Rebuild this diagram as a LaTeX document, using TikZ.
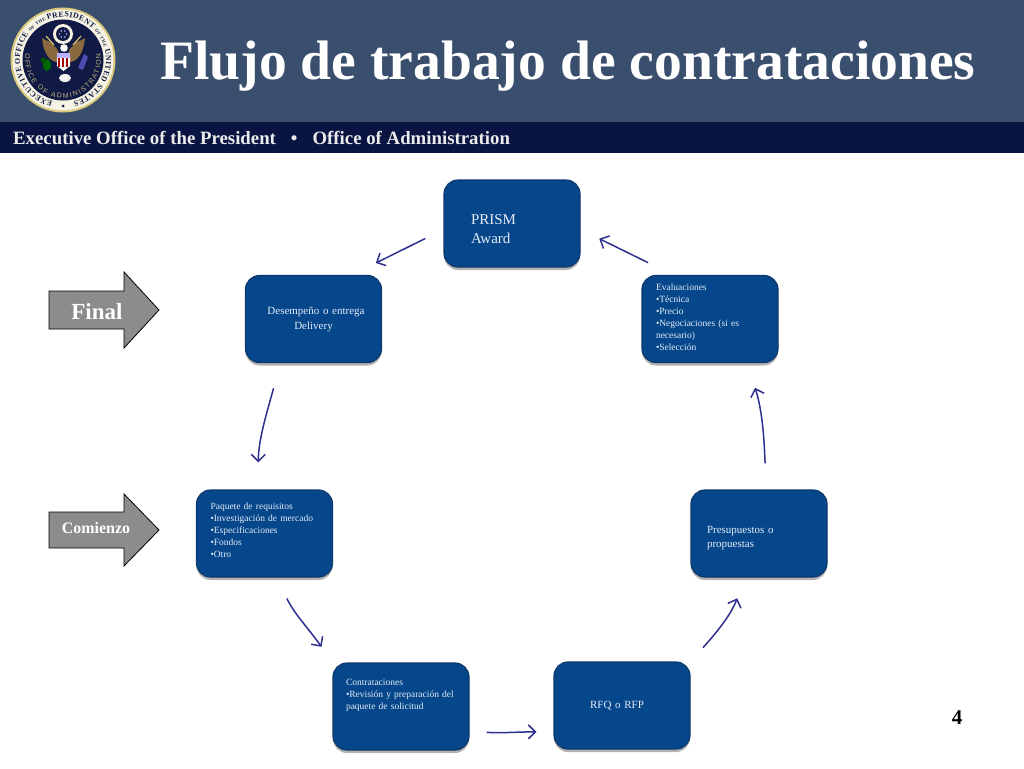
\documentclass[tikz,border=0pt]{standalone}
\usepackage{fontspec}
\setmainfont{Liberation Serif}
\setsansfont{Liberation Sans}
\usetikzlibrary{arrows.meta, shadows, decorations.text}

\definecolor{bandblue}{HTML}{3A4F6D}
\definecolor{barnavy}{HTML}{0A1442}
\definecolor{boxblue}{HTML}{06478C}
\definecolor{boxedge}{HTML}{0D3869}
\definecolor{boxtext}{HTML}{E2EBF6}
\definecolor{flowblue}{HTML}{2E2F8F}
\definecolor{arrowgray}{HTML}{8C8C8C}
\definecolor{sealgold}{HTML}{D9C77A}
\definecolor{sealcream}{HTML}{F6F3E4}
\definecolor{sealnavy}{HTML}{101A44}
\definecolor{eaglebrown}{HTML}{8A6A3C}

\tikzset{
  etapa/.style={draw=boxedge, line width=1.2pt, fill=boxblue, rounded corners=14pt,
    minimum width=136pt, minimum height=87pt, text width=108pt, inner xsep=14pt, inner ysep=0pt,
    align=left, text=boxtext, font=\fontsize{9.5}{12}\selectfont,
    drop shadow={shadow xshift=0pt, shadow yshift=-3pt, opacity=0.3, fill=black}},
  flujo/.style={draw=flowblue, line width=1.5pt, -{Straight Barb[length=7pt, width=14pt, line width=1.5pt]}},
  bloque/.style={draw=black, line width=0.8pt, fill=arrowgray},
  rotulo/.style={text=white, inner sep=0pt},
}

\begin{document}
\begin{tikzpicture}[x=1pt, y=-1pt]
  \useasboundingbox (0,0) rectangle (1024,768);

  % Header
  \fill[bandblue] (0,0) rectangle (1024,122);
  \fill[barnavy] (0,122) rectangle (1024,153);
  \node[rotulo, font=\fontsize{55.6}{60}\bfseries\selectfont, anchor=base west] (titulo) at (160,79) {Flujo de trabajo de contrataciones};
  \node[rotulo, text=white!92!black, font=\fontsize{18.8}{22}\bfseries\selectfont, anchor=base west] (oficina) at (13,144) {Executive Office of the President\hspace{15pt}\textbullet\hspace{15pt}Office of Administration};

  % Seal
  \fill[sealgold] (63,60) circle (52.5);
  \fill[sealcream] (63,60) circle (50.5);
  \fill[sealnavy] (63,60) circle (40.5);
  \path[postaction={decorate, decoration={text along path, text align={fit to path}, text color=sealnavy,
    text={|\fontsize{7.8}{9}\bfseries\selectfont|EXECUTIVE OFFICE |\fontsize{4.5}{5}\bfseries\selectfont|OF THE |\fontsize{7.8}{9}\bfseries\selectfont|PRESIDENT |\fontsize{4.5}{5}\bfseries\selectfont|OF THE |\fontsize{7.8}{9}\bfseries\selectfont|UNITED STATES}}}]
    (63,60) ++(104:43) arc[start angle=104, end angle=436, radius=43];
  \path[postaction={decorate, decoration={text along path, text align={fit to path}, text color=sealgold!70!gray,
    text={|\sffamily\fontsize{7}{8}\selectfont|OFFICE OF ADMINISTRATION}}}]
    (63,60) ++(-170:38) arc[start angle=-170, end angle=-370, radius=38];
  \fill[sealnavy] (63,106) circle (1.5);
  % eagle
  \fill[eaglebrown] (60,62) .. controls (50,64) and (43,52) .. (42,38) .. controls (47,42) and (51,40) .. (54,46) .. controls (58,48) and (60,54) .. (60,62) -- cycle;
  \fill[eaglebrown] (67,62) .. controls (77,64) and (84,52) .. (85,38) .. controls (80,42) and (76,40) .. (73,46) .. controls (69,48) and (67,54) .. (67,62) -- cycle;
  \draw[sealgold, line width=1.2pt] (46,36) -- (54,45);
  \draw[sealgold, line width=1.2pt] (81,36) -- (73,45);
  \fill[sealcream] (63,34) circle (10);
  \fill[sealnavy] (63,34) circle (7);
  \foreach \i in {1,...,6} {
    \fill[white!70!blue] (63,34) ++(60*\i:3.5) circle (0.8);
  }
  \fill[white] (64,48) circle (3.8);
  \fill[white!70!blue] (57,53) rectangle (70,58);
  \fill[white] (57,58) -- (70,58) -- (70,66) -- (63.5,71) -- (57,66) -- cycle;
  \foreach \i in {0,...,2} {
    \fill[red!65!black] (58+4*\i,58) rectangle (60+4*\i,67);
  }
  \fill[white!90!gray] (65,78) ellipse (6 and 4);
  \fill[green!40!black] (47,65) ellipse (4 and 6);
  \fill[green!35!black] (43,60) circle (2.5);
  \fill[gray!60!blue] (78,68) -- (84,54) -- (88,57) -- (83,70) -- cycle;

  % Workflow boxes
  \node[etapa, text width=82pt, inner xsep=27pt, font=\fontsize{15}{19}\selectfont] (award) at (512,223.5) {\rule{0pt}{22pt}PRISM\\Award};
  \node[etapa] (evaluaciones) at (710,319) {Evaluaciones\\\textbullet Técnica\\\textbullet Precio\\\textbullet Negociaciones (si es\\necesario)\\\textbullet Selección\rule[-4pt]{0pt}{4pt}};
  \node[etapa, text width=104pt, inner xsep=16pt, font=\fontsize{11}{14}\selectfont] (presupuestos) at (759,533.5) {\rule{0pt}{17pt}Presupuestos o\\propuestas};
  \node[etapa, align=center, font=\fontsize{11}{14}\selectfont] (rfq) at (622,705.5) {\hspace*{-10pt}RFQ o RFP};
  \node[etapa, text width=110pt, inner xsep=13pt] (contratos) at (401,706.5) {Contrataciones\\\textbullet Revisión y preparación del\\paquete de solicitud\\[12pt]\mbox{}};
  \node[etapa] (paquete) at (264.5,533.5) {Paquete de requisitos\\\textbullet Investigación de mercado\\\textbullet Especificaciones\\\textbullet Fondos\\\textbullet Otro\rule[-6pt]{0pt}{6pt}};
  \node[etapa, align=center, font=\fontsize{11}{15}\selectfont] (entrega) at (313.5,319) {\hspace*{5pt}Desempeño o entrega\\Delivery};

  % Start and end arrows
  \draw[bloque] (49,291) -- (124,291) -- (124,272) -- (159,310) -- (124,348) -- (124,329) -- (49,329) -- cycle;
  \node[rotulo, font=\fontsize{23}{26}\bfseries\selectfont] (final) at (97,312) {Final};
  \draw[bloque] (49,512) -- (124,512) -- (124,494) -- (159,530) -- (124,566) -- (124,548) -- (49,548) -- cycle;
  \node[rotulo, font=\fontsize{16}{18}\bfseries\selectfont] (comienzo) at (96,528) {Comienzo};

  % Connectors
  \draw[flujo, shorten <=27.7pt, shorten >=20.8pt] (evaluaciones.130) -- (award.-5);
  \draw[flujo, shorten <=20.2pt, shorten >=26.8pt] (award.185) -- (entrega.49);
  \draw[flujo, shorten <=26pt, shorten >=27pt] (entrega.-127) to[out=-105, in=90] (paquete.98);
  \draw[flujo, shorten <=23pt, shorten >=19pt] (paquete.-74) to[out=-65, in=125] (contratos.north west);
  \draw[flujo, shorten <=17pt, shorten >=17pt] (contratos.-20) to[out=-3, in=180] (rfq.201);
  \draw[flujo, shorten <=18.6pt, shorten >=22pt] (rfq.north east) to[out=48, in=-110] (presupuestos.-108);
  \draw[flujo, shorten <=26pt, shorten >=26pt] (presupuestos.81) to[out=92, in=-72] (evaluaciones.-50);

  % Page number
  \node[rotulo, text=black, font=\fontsize{21}{24}\bfseries\selectfont] (pagina) at (957,718) {4};
\end{tikzpicture}
\end{document}
